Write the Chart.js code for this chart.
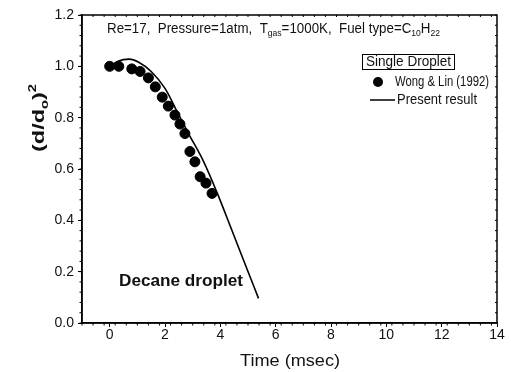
<!DOCTYPE html>
<html><head><meta charset="utf-8">
<script src="https://cdn.jsdelivr.net/npm/chart.js@4"></script>
<style>html,body{margin:0;padding:0;background:#fff}#c{display:block}</style>
</head><body>
<canvas id="c" width="511" height="372"></canvas>
<script>
const expTime = [0, 0.33, 0.8, 1.1, 1.4, 1.65, 1.9, 2.12, 2.36, 2.54, 2.72, 2.9, 3.08, 3.27, 3.48, 3.7];
const expD2   = [1.0, 1.0, 0.99, 0.98, 0.955, 0.92, 0.88, 0.845, 0.81, 0.775, 0.738, 0.668, 0.628, 0.57, 0.545, 0.505];
const simTime = [0, 0.3, 0.7, 1.05, 1.5, 2.0, 2.5, 2.85, 3.4, 3.9, 4.4, 4.9, 5.38];
const simD2   = [1.0, 1.02, 1.028, 1.016, 0.98, 0.914, 0.81, 0.738, 0.628, 0.503, 0.366, 0.228, 0.096];
const xTicks = [0, 2, 4, 6, 8, 10, 12, 14];
const yTicks = [0.0, 0.2, 0.4, 0.6, 0.8, 1.0, 1.2];

const FONT = "'Liberation Sans', Arial, sans-serif";

// draw a run of [text, mode] parts, scaled horizontally to a target width
function drawRich(ctx, parts, x, y, size, target, bold) {
  const b = bold ? 'bold ' : '';
  const fsz = m => (m === 'n' ? size : Math.round(size * 0.62));
  let total = 0;
  for (const [t, m] of parts) { ctx.font = `${b}${fsz(m)}px ${FONT}`; total += ctx.measureText(t).width; }
  const sx = target ? target / total : 1;
  ctx.save();
  ctx.translate(x, y);
  ctx.scale(sx, 1);
  let cx = 0;
  for (const [t, m] of parts) {
    ctx.font = `${b}${fsz(m)}px ${FONT}`;
    const dy = m === 'sub' ? size * 0.32 : (m === 'sup' ? -size * 0.42 : 0);
    ctx.fillText(t, cx, dy);
    cx += ctx.measureText(t).width;
  }
  ctx.restore();
  return total * sx;
}

const decor = {
  id: 'decor',
  afterDraw(chart) {
    const ctx = chart.ctx, a = chart.chartArea;
    const xs = chart.scales.x, ys = chart.scales.y;
    ctx.save();
    ctx.strokeStyle = '#000'; ctx.lineWidth = 1.5;
    ctx.strokeRect(a.left, a.top, a.right - a.left, a.bottom - a.top);
    // minor ticks
    ctx.lineWidth = 1;
    ctx.beginPath();
    for (let v = -1; v <= 14.001; v += 0.4) {
      const p = xs.getPixelForValue(v);
      if (p < a.left - 0.5 || p > a.right + 0.5) continue;
      ctx.moveTo(p, a.bottom); ctx.lineTo(p, a.bottom + 2.5);
      ctx.moveTo(p, a.top); ctx.lineTo(p, a.top + 2);
    }
    for (let v = 0; v <= 1.2001; v += 0.04) {
      const p = ys.getPixelForValue(v);
      ctx.moveTo(a.left, p); ctx.lineTo(a.left - 2.5, p);
      ctx.moveTo(a.right, p); ctx.lineTo(a.right - 2, p);
    }
    ctx.stroke();
    ctx.fillStyle = '#111';
    ctx.textBaseline = 'middle';
    ctx.textAlign = 'left';
    // header line
    drawRich(ctx, [['Re=17,  Pressure=1atm,  T', 'n'], ['gas', 'sub'], ['=1000K,  Fuel type=C', 'n'], ['10', 'sub'], ['H', 'n'], ['22', 'sub']], 107, 29, 14, 333);
    // Single Droplet box
    drawRich(ctx, [['Single Droplet', 'n']], 366, 62, 14, 85);
    ctx.lineWidth = 1;
    ctx.strokeRect(362.5, 54.5, 92, 15);
    // legend
    ctx.beginPath(); ctx.arc(378, 82, 5, 0, Math.PI * 2); ctx.fillStyle = '#000'; ctx.fill();
    ctx.fillStyle = '#111';
    drawRich(ctx, [[chart.data.datasets[1].label, 'n']], 395, 82, 15.5, 94);
    ctx.beginPath(); ctx.lineWidth = 1.5; ctx.moveTo(370, 100); ctx.lineTo(395, 100); ctx.stroke();
    drawRich(ctx, [[chart.data.datasets[0].label, 'n']], 397, 100, 15.5, 80);
    // annotation
    drawRich(ctx, [['Decane droplet', 'n']], 119, 282, 16, 124, true);
    // x title
    drawRich(ctx, [['Time (msec)', 'n']], 240, 362, 16, 100);
    // y title
    ctx.translate(40, 118);
    ctx.rotate(-Math.PI / 2);
    drawRich(ctx, [['(d/d', 'n'], ['o', 'sub'], [')', 'n'], ['2', 'sup']], -34, 0, 16, 68, true);
    ctx.restore();
  }
};

new Chart(document.getElementById('c'), {
  type: 'scatter',
  data: {
    datasets: [
      { label: 'Present result', data: simTime.map((t, i) => ({ x: t, y: simD2[i] })),
        showLine: true, borderColor: '#000', borderWidth: 1.6, pointRadius: 0, cubicInterpolationMode: 'monotone', fill: false },
      { label: 'Wong & Lin (1992)', data: expTime.map((t, i) => ({ x: t, y: expD2[i] })),
        backgroundColor: '#000', borderColor: '#000', pointRadius: 5, pointHoverRadius: 5 }
    ]
  },
  options: {
    responsive: false, animation: false, devicePixelRatio: 1,
    layout: { padding: { top: 15, right: 14, left: 0, bottom: 0 } },
    plugins: { legend: { display: false }, tooltip: { enabled: false } },
    scales: {
      x: {
        type: 'linear', min: -1, max: 14,
        afterBuildTicks: s => { s.ticks = xTicks.map(v => ({ value: v })); },
        afterFit: s => { s.height = 49; },
        grid: { drawOnChartArea: false, drawTicks: true, tickLength: 4, color: '#000', lineWidth: 1 },
        border: { display: true, color: '#000', width: 1.5 },
        ticks: { color: '#111', font: { family: FONT, size: 14 }, padding: 0, maxRotation: 0 },
        title: { display: false }
      },
      y: {
        type: 'linear', min: 0, max: 1.2,
        afterBuildTicks: s => { s.ticks = yTicks.map(v => ({ value: v })); },
        afterFit: s => { s.width = 82; },
        grid: { drawOnChartArea: false, drawTicks: true, tickLength: 4, color: '#000', lineWidth: 1 },
        border: { display: true, color: '#000', width: 1.5 },
        ticks: { color: '#111', font: { family: FONT, size: 14 }, padding: 4, callback: v => v.toFixed(1) }
      }
    }
  },
  plugins: [decor]
});
</script>
</body></html>
